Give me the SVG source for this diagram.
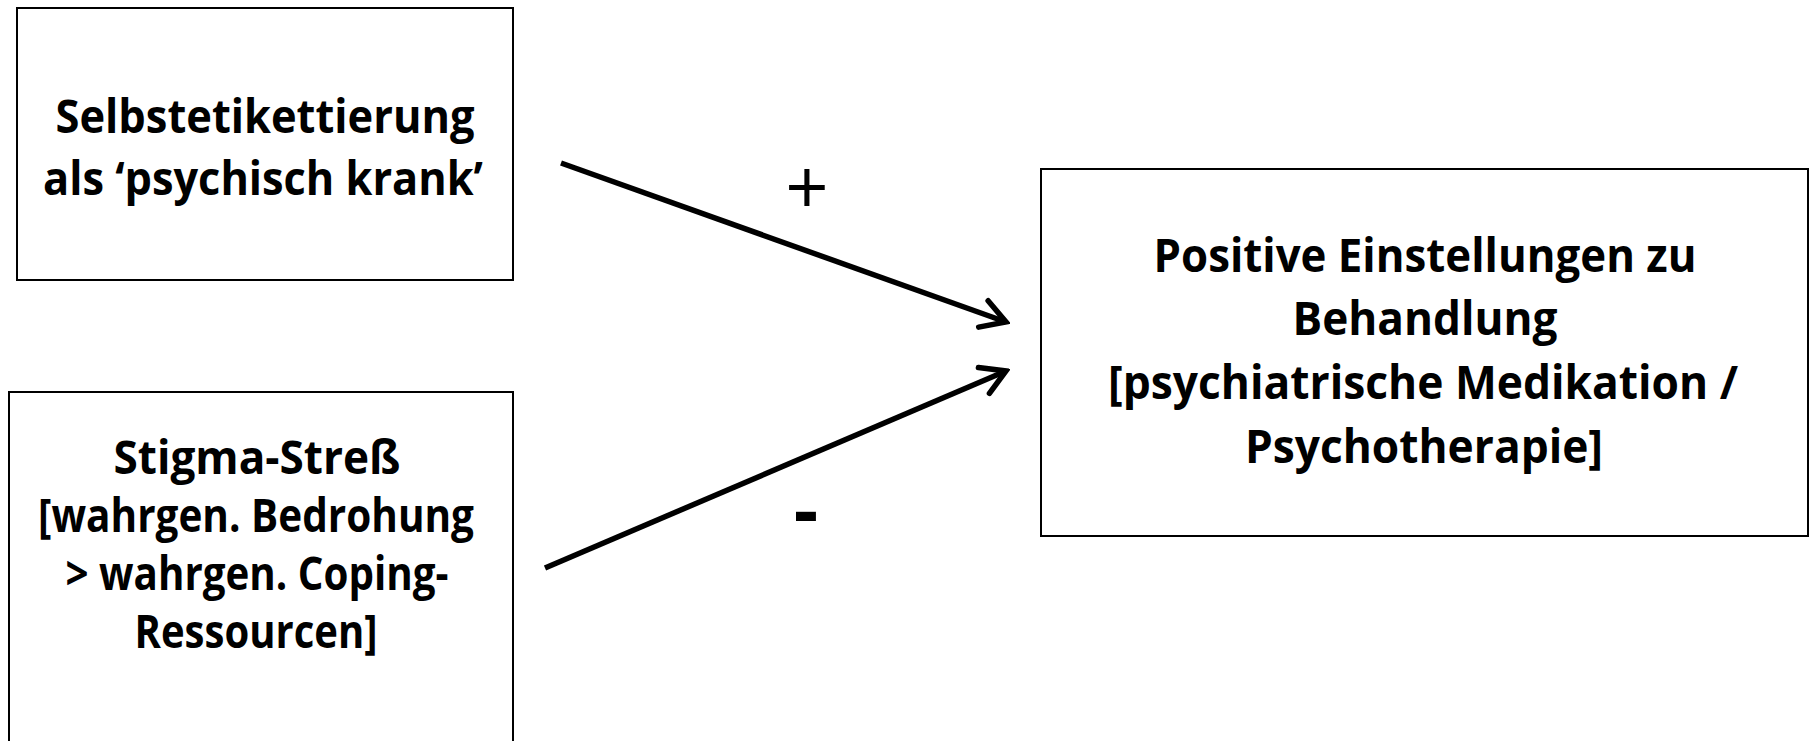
<svg xmlns="http://www.w3.org/2000/svg" width="1814" height="741" viewBox="0 0 1814 741">
<style>
.box{fill:#fff;stroke:#000;stroke-width:2}
.t{font-family:"Open Sans","Noto Sans","Liberation Sans",sans-serif;font-weight:bold;font-size:47px;fill:#000;text-anchor:middle}
.sign{font-family:"Open Sans","Liberation Sans",sans-serif;font-size:76px;fill:#000;text-anchor:middle}
.conn{stroke:#000;stroke-width:5.5;fill:none}
</style>
<defs>
<marker id="arr" markerUnits="userSpaceOnUse" viewBox="-30 -20 34 40" refX="0" refY="0" markerWidth="34" markerHeight="40" orient="auto">
<path d="M-24,-14 L0,0 L-24,14" fill="none" stroke="#000" stroke-width="5.5" stroke-linecap="round" stroke-linejoin="miter"/>
</marker>
</defs>
<rect width="1814" height="741" fill="#fff"/>
<g id="node-selbstetikettierung">
<rect class="box" x="17" y="8" width="496" height="272"/>
<text class="t" x="265" y="133" textLength="419" lengthAdjust="spacingAndGlyphs">Selbstetikettierung</text>
<text class="t" x="263" y="195" textLength="440" lengthAdjust="spacingAndGlyphs">als ‘psychisch krank’</text>
</g>
<g id="node-stigma-stress">
<rect class="box" x="9" y="392" width="504" height="360"/>
<text class="t" x="257" y="474" textLength="287" lengthAdjust="spacingAndGlyphs">Stigma-Streß</text>
<text class="t" x="256" y="532" textLength="436" lengthAdjust="spacingAndGlyphs">[wahrgen. Bedrohung</text>
<text class="t" x="257" y="590" textLength="383" lengthAdjust="spacingAndGlyphs">&gt; wahrgen. Coping-</text>
<text class="t" x="256" y="648" textLength="243" lengthAdjust="spacingAndGlyphs">Ressourcen]</text>
</g>
<g id="node-einstellungen">
<rect class="box" x="1041" y="169" width="767" height="367"/>
<text class="t" x="1425" y="272" textLength="543" lengthAdjust="spacingAndGlyphs">Positive Einstellungen zu</text>
<text class="t" x="1425" y="335" textLength="265" lengthAdjust="spacingAndGlyphs">Behandlung</text>
<text class="t" x="1423" y="399" textLength="630" lengthAdjust="spacingAndGlyphs">[psychiatrische Medikation /</text>
<text class="t" x="1424" y="463" textLength="358" lengthAdjust="spacingAndGlyphs">Psychotherapie]</text>
</g>
<g id="connectors">
<line class="conn" x1="561" y1="163" x2="1006" y2="322" marker-end="url(#arr)"/>
<line class="conn" x1="545" y1="568" x2="1006" y2="371" marker-end="url(#arr)"/>
<text class="sign" x="807" y="215">+</text>
<text class="sign" x="806" y="537" font-weight="bold">-</text>
</g>
</svg>
